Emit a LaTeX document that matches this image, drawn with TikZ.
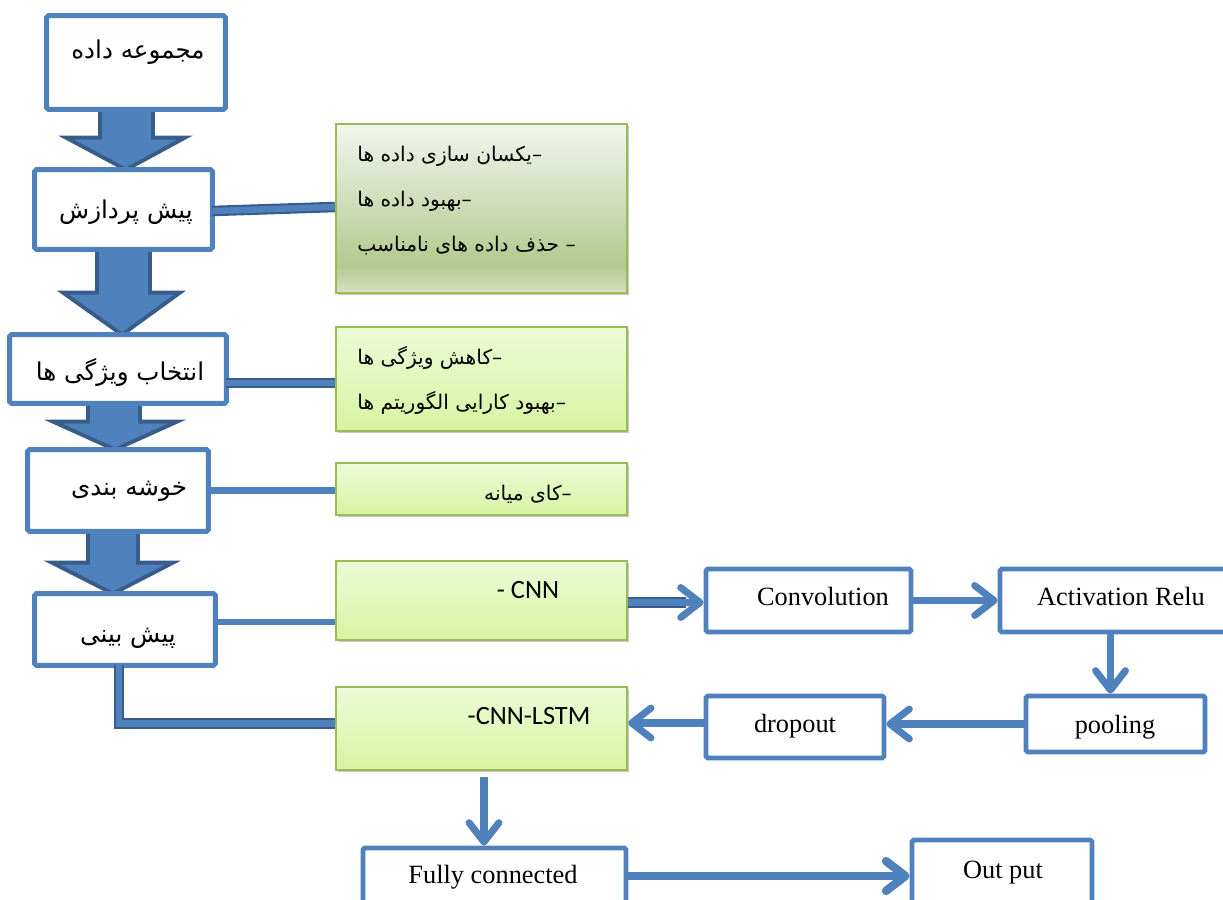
\documentclass[tikz,border=0pt]{standalone}
\usepackage{fontspec}
\setmainfont{Liberation Serif}
\newfontfamily\fafont[Script=Arabic]{DejaVu Sans}
\newfontfamily\calfont{Carlito}
\TeXXeTstate=1
\usetikzlibrary{arrows.meta,calc,shadows}
\definecolor{mblue}{HTML}{4F81BD}
\definecolor{dblue}{HTML}{385D8A}
\definecolor{gborder}{HTML}{9BBB59}
\definecolor{gtop}{HTML}{EDFBD6}
\definecolor{gbot}{HTML}{D6F4A2}
\definecolor{gonet}{HTML}{F3F6EE}
\definecolor{gonem}{HTML}{B2C98E}
\definecolor{goneb}{HTML}{D7E2C3}
\pgfdeclareverticalshading{gonesh}{100bp}{color(0bp)=(goneb); color(25bp)=(goneb); color(33bp)=(gonem); color(75bp)=(gonet); color(100bp)=(gonet)}
\newcommand\blockarrow[8]{%
  \draw[barrow] let \p1=(#1.south), \p2=(#2.north) in
  ({#3*0.02cm},\y1) -- ({#3*0.02cm},{\y2+#8*0.02cm}) -- ({#5*0.02cm},{\y2+#8*0.02cm})
  -- ({#7*0.02cm},\y2) -- ({#6*0.02cm},{\y2+#8*0.02cm}) -- ({#4*0.02cm},{\y2+#8*0.02cm})
  -- ({#4*0.02cm},\y1) -- cycle;}
\begin{document}
\begin{tikzpicture}[x=0.02cm,y=-0.02cm,
  box/.style={draw=mblue, line width=2.8pt, fill=white, rounded corners=1pt},
  gshadow/.style={drop shadow={shadow xshift=1.3pt, shadow yshift=-1.3pt, opacity=0.3, fill=black!70}},
  gbox/.style={draw=gborder, line width=1.3pt, top color=gtop, bottom color=gbot, gshadow},
  gonebox/.style={draw=gborder, line width=1.3pt, shading=gonesh, gshadow},
  barrow/.style={fill=mblue, draw=dblue, line width=2.2pt, line join=miter},
  link/.style={draw=mblue, line width=3.6pt},
  dlink/.style={draw=dblue, double=mblue, line width=1.2pt, double distance=3.6pt},
  arr/.style={draw=mblue, line width=4pt, -{Straight Barb[round, length=11pt, width=17pt]}},
  fa/.style={font=\fafont\fontsize{14}{16}\selectfont, inner sep=0pt},
  fas/.style={font=\fafont\fontsize{11.5}{14}\selectfont, inner sep=0pt, anchor=west},
  en/.style={font=\fontsize{15}{18}\selectfont, inner sep=0pt, anchor=base},
  cal/.style={font=\calfont\fontsize{15}{18}\selectfont, inner sep=0pt, anchor=base}]
\path[use as bounding box] (0,0) rectangle (1223,899);
\clip (0,0) rectangle (1223,899);

% main boxes
\node[inner sep=0pt, minimum width=178*0.02cm, minimum height=93*0.02cm] (b1) at (136,62.5) {};
\node[inner sep=0pt, minimum width=177*0.02cm, minimum height=79*0.02cm] (b2) at (123.5,209.5) {};
\node[inner sep=0pt, minimum width=216*0.02cm, minimum height=68*0.02cm] (b3) at (118,369) {};
\node[inner sep=0pt, minimum width=180*0.02cm, minimum height=81*0.02cm] (b4) at (118,490.5) {};
\node[inner sep=0pt, minimum width=180*0.02cm, minimum height=71*0.02cm] (b5) at (125,629.5) {};

% block arrows
\blockarrow{b1}{b2}{100}{153}{66}{185}{126}{32}
\blockarrow{b2}{b3}{97}{150}{63}{180}{122}{42}
\blockarrow{b3}{b4}{88}{140}{53}{177}{115}{28}
\blockarrow{b4}{b5}{88}{138}{52}{173}{113}{31}

\path[box] (b1.south west) rectangle (b1.north east);
\path[box] (b2.south west) rectangle (b2.north east);
\path[box] (b3.south west) rectangle (b3.north east);
\path[box] (b4.south west) rectangle (b4.north east);
\path[box] (b5.south west) rectangle (b5.north east);

% green boxes
\node[gonebox, inner sep=0pt, minimum width=291*0.02cm, minimum height=169*0.02cm] (g1) at (481.5,208.5) {};
\node[gbox, inner sep=0pt, minimum width=291*0.02cm, minimum height=104*0.02cm] (g2) at (481.5,379) {};
\node[gbox, inner sep=0pt, minimum width=291*0.02cm, minimum height=52*0.02cm] (g3) at (481.5,489) {};
\node[gbox, inner sep=0pt, minimum width=291*0.02cm, minimum height=79*0.02cm] (g4) at (481.5,600.5) {};
\node[gbox, inner sep=0pt, minimum width=291*0.02cm, minimum height=83*0.02cm] (g5) at (481.5,728.5) {};

% right boxes
\node[box, inner sep=0pt, minimum width=205*0.02cm, minimum height=63*0.02cm] (conv) at (808.5,600.5) {};
\node[box, inner sep=0pt, minimum width=240*0.02cm, minimum height=63*0.02cm] (act) at (1120,600.5) {};
\node[box, inner sep=0pt, minimum width=179*0.02cm, minimum height=56*0.02cm] (pool) at (1115.5,724) {};
\node[box, inner sep=0pt, minimum width=178*0.02cm, minimum height=62*0.02cm] (drop) at (795,727) {};
\node[box, inner sep=0pt, minimum width=263*0.02cm, minimum height=62*0.02cm] (fc) at (494.5,879) {};
\node[box, inner sep=0pt, minimum width=180*0.02cm, minimum height=70*0.02cm] (out) at (1002,875) {};

% connectors from main column
\draw[dlink] ($(b2.east)+(0,1.5)$) -- ($(g1.west)+(0,-1.5)$);
\coordinate (c3) at ($(b3.east)+(0,14)$);
\draw[dlink] (c3) -- (c3 -| g2.west);
\draw[link] (b4.east) -- (b4.east -| g3.west);
\coordinate (c5) at ($(b5.east)+(0,-7.5)$);
\draw[link] (c5) -- (c5 -| g4.west);
\coordinate (c6) at ($(b5.south)+(-6,0)$);
\coordinate (c7) at ($(g5.west)+(0,-5)$);
\draw[dlink] (c6) |- (c7);

% arrows
\coordinate (a1) at ($(g4.east)+(0,2)$);
\draw[arr] (a1) -- (a1 -| conv.west);
\draw[dlink] (a1) -- ($(a1 -| conv.west)+(-18,0)$);
\draw[arr] (conv.east) -- (conv.east -| act.west);
\coordinate (a2) at ($(pool.north)+(-5,0)$);
\draw[arr] (a2 |- act.south) -- (a2);
\draw[arr] (pool.west) -- (pool.west -| drop.east);
\coordinate (a3) at ($(drop.west)+(0,-4)$);
\draw[arr] (a3) -- (a3 -| g5.east);
\coordinate (a4) at ($(g5.south)+(2.5,6)$);
\draw[arr] (a4) -- (a4 |- fc.north);
\coordinate (a5) at ($(fc.east)+(0,-3)$);
\draw[arr, line width=4.8pt] (a5) -- (a5 -| out.west);

% texts
\node[fa] (t1) at (138,52) {\beginR مجموعه داده\endR};
\node[fa] (t2) at (126,212) {\beginR پیش پردازش\endR};
\node[fa] (t3) at (120,372) {\beginR انتخاب ویژگی ها\endR};
\node[fa] (t4) at (129,491) {\beginR خوشه بندی\endR};
\node[fa] (t5) at (128,638) {\beginR پیش بینی\endR};
\node[fas] (t6) at (357,156) {\beginR –یکسان سازی داده ها\endR};
\node[fas] (t7) at (357,201) {\beginR –بهبود داده ها\endR};
\node[fas] (t8) at (357,246) {\beginR – حذف داده های نامناسب\endR};
\node[fas] (t9) at (357,358) {\beginR –کاهش ویژگی ها\endR};
\node[fas] (t10) at (357,403) {\beginR –بهبود کارایی الگوریتم ها\endR};
\node[fas, anchor=center] (t11) at (528,494) {\beginR –کای میانه\endR};
\node[cal] (t12) at (528,598) {- CNN};
\node[cal] (t13) at (529,724) {-CNN-LSTM};
\node[en] (t14) at (823,605) {Convolution};
\node[en] (t15) at (1121,605) {Activation Relu};
\node[en] (t16) at (1115,733) {pooling};
\node[en] (t17) at (795,732) {dropout};
\node[en] (t18) at (493,883) {Fully connected};
\node[en] (t19) at (1003,878) {Out put};
\end{tikzpicture}
\end{document}
